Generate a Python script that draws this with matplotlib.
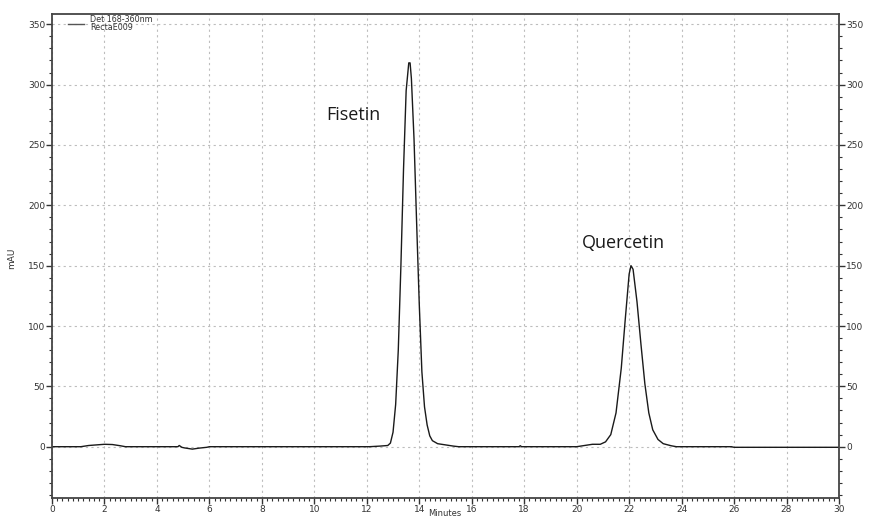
import matplotlib
matplotlib.use("Agg")
import matplotlib.pyplot as plt
from matplotlib.ticker import MultipleLocator

# Chromatogram trace (time in minutes, signal in mAU)
time_min = [0.0, 1.1, 1.4, 1.7, 2.0, 2.3, 2.6, 2.8, 4.8, 4.85, 4.95, 5.05, 5.2, 5.35,
            5.6, 5.9, 6.0, 12.1, 12.5, 12.8, 12.9, 13.0, 13.1, 13.2, 13.3, 13.4, 13.5,
            13.6, 13.65, 13.7, 13.8, 13.9, 14.0, 14.1, 14.2, 14.3, 14.4, 14.5, 14.7,
            15.0, 15.3, 15.5, 17.8, 17.85, 17.9, 20.0, 20.3, 20.6, 20.9, 21.1, 21.3,
            21.5, 21.7, 21.85, 22.0, 22.07, 22.15, 22.3, 22.45, 22.6, 22.75, 22.9,
            23.1, 23.3, 23.6, 23.8, 25.9, 26.0, 30.0]
signal_mau = [0.0, 0.0, 1.0, 1.5, 2.0, 1.8, 0.8, 0.0, 0.0, 1.0, -0.5, -1.0, -1.5, -2.0,
              -1.2, -0.5, 0.0, 0.0, 0.5, 1.0, 3.0, 12.0, 35.0, 80.0, 150.0, 230.0, 295.0,
              318.0, 318.0, 305.0, 255.0, 185.0, 118.0, 62.0, 33.0, 18.0, 9.0, 5.0, 2.5,
              1.5, 0.5, 0.0, 0.0, 0.8, 0.0, 0.0, 1.0, 2.0, 2.0, 4.0, 10.0,
              28.0, 65.0, 105.0, 143.0, 150.0, 147.0, 120.0, 85.0, 52.0, 28.0, 14.0,
              6.0, 2.5, 0.8, 0.0, 0.0, -0.5, -0.5]

# Peak labels
peak_names = ["Fisetin", "Quercetin"]
peak_label_x = [10.45, 20.2]
peak_label_y = [275, 169]

legend_lines = ["Det 168-360nm", "RectaE009"]
x_label = "Minutes"
y_label = "mAU"

fig = plt.figure(figsize=(8.75, 5.17), dpi=100)
ax = fig.add_axes([52 / 875, 1 - 498 / 517, (839 - 52) / 875, (498 - 14) / 517])

ax.plot(time_min, signal_mau, color="#1a1a1a", lw=1.0)

ax.set_xlim(0, 30)
ax.set_ylim(-42.5, 358.5)
ax.xaxis.set_major_locator(MultipleLocator(2))
ax.xaxis.set_minor_locator(MultipleLocator(0.2))
ax.yaxis.set_major_locator(MultipleLocator(50))
ax.yaxis.set_minor_locator(MultipleLocator(10))
ax.grid(True, which="major", ls=(0, (2, 3)), color="#bdbdbd", lw=0.8)

ax.tick_params(axis="both", which="both", direction="out", colors="#333333",
               labelsize=6.5, labelcolor="#333333")
ax.tick_params(axis="y", which="both", left=True, right=True, labelleft=True, labelright=True)
ax.tick_params(which="major", length=4, width=1)
ax.tick_params(which="minor", length=2.5, width=0.8)
ax.tick_params(axis="y", which="both", pad=1)
ax.tick_params(axis="x", which="both", pad=1)
for s in ax.spines.values():
    s.set_color("#444444")
    s.set_linewidth(1.3)

fig.text(445 / 875, 1 - 513 / 517, x_label, fontsize=6, color="#333333",
         ha="center", va="center")
fig.text(12 / 875, 1 - 258 / 517, y_label, fontsize=6.5, color="#333333",
         ha="center", va="center", rotation=90)

for name, lx, ly in zip(peak_names, peak_label_x, peak_label_y):
    ax.text(lx, ly, name, fontsize=13, family="Open Sans", color="#1a1a1a",
            ha="left", va="center")

# legend entry
fig.add_artist(plt.Line2D([68 / 875, 84 / 875], [1 - 24 / 517, 1 - 24 / 517],
                          color="#555555", lw=1.0))
fig.text(90 / 875, 1 - 19.5 / 517, legend_lines[0], fontsize=5.8, color="#333333", va="center")
fig.text(90 / 875, 1 - 27.5 / 517, legend_lines[1], fontsize=5.8, color="#333333", va="center")

fig.savefig("out.png", dpi=100)
